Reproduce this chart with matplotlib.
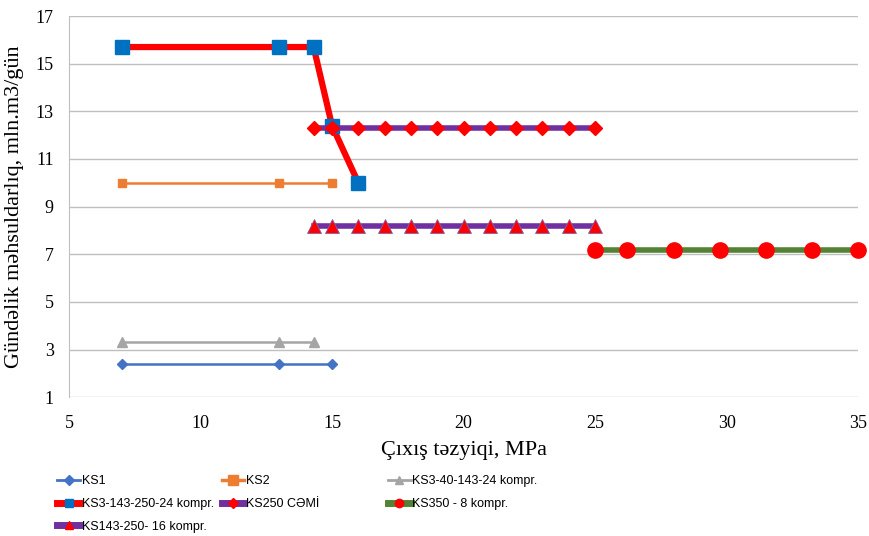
import matplotlib.pyplot as plt
from matplotlib.lines import Line2D

# data
ks1_x = [7, 13, 15]
ks1_y = [2.4, 2.4, 2.4]
ks2_x = [7, 13, 15]
ks2_y = [10, 10, 10]
ks3_40_x = [7, 13, 14.3]
ks3_40_y = [3.3, 3.3, 3.3]
ks3_143_x = [7, 13, 14.3, 15, 16]
ks3_143_y = [15.7, 15.7, 15.7, 12.4, 10]
ks250_x = [14.3, 15, 16, 17, 18, 19, 20, 21, 22, 23, 24, 25]
ks250_y = [12.3] * 12
ks143_x = [14.3, 15, 16, 17, 18, 19, 20, 21, 22, 23, 24, 25]
ks143_y = [8.2] * 12
ks350_x = [25, 26.2, 28, 29.75, 31.5, 33.25, 35]
ks350_y = [7.2] * 7

names = ["KS1", "KS2", "KS3-40-143-24 kompr.", "KS3-143-250-24 kompr.",
         "KS250 CƏMİ", "KS350 - 8 kompr.", "KS143-250- 16 kompr."]

serif = "Liberation Serif"

fig = plt.figure(figsize=(8.7, 5.36), dpi=100)
ax = fig.add_axes([0.0793, 0.259, 0.907, 0.711])

ax.plot(ks1_x, ks1_y, color="#4472C4", lw=1.8, marker="D", ms=5)
ax.plot(ks2_x, ks2_y, color="#ED7D31", lw=1.8, marker="s", ms=6)
ax.plot(ks3_40_x, ks3_40_y, color="#A5A5A5", lw=1.8, marker="^", ms=7)
ax.plot(ks3_143_x, ks3_143_y, color="#FF0000", lw=4.5, marker="s", ms=10,
        mfc="#0070C0", mec="#0070C0")
ax.plot(ks250_x, ks250_y, color="#7030A0", lw=4, marker="D", ms=7.5,
        mfc="#FF0000", mec="#FF0000")
ax.plot(ks143_x, ks143_y, color="#7030A0", lw=4, marker="^", ms=10,
        mfc="#FF0000", mec="#8064A2", mew=0.6)
ax.plot(ks350_x, ks350_y, color="#548235", lw=4, marker="o", ms=11,
        mfc="#FF0000", mec="#FF0000", clip_on=False)

ax.set_xlim(5, 35)
ax.set_ylim(1, 17)
ax.set_xticks(range(5, 36, 5))
ax.set_yticks(range(1, 18, 2))
ax.grid(axis="y", color="#BFBFBF", lw=1)
ax.set_axisbelow(True)
for s in ["top", "right", "bottom"]:
    ax.spines[s].set_visible(False)
ax.spines["left"].set_color("#BFBFBF")
ax.tick_params(axis="x", length=0, labelsize=13, pad=13)
ax.tick_params(axis="y", length=0, labelsize=13, pad=11)
for lab in ax.get_xticklabels() + ax.get_yticklabels():
    lab.set_fontfamily(serif)

ax.set_xlabel("Çıxış təzyiqi, MPa", fontsize=16, fontfamily=serif, labelpad=6)
ax.set_ylabel("Gündəlik məhsuldarlıq, mln.m3/gün", fontsize=16, fontfamily=serif, labelpad=8)

# small legend symbols, like the original
h1 = Line2D([], [], color="#4472C4", lw=2, marker="D", ms=5)
h2 = Line2D([], [], color="#ED7D31", lw=2.5, marker="s", ms=7)
h3 = Line2D([], [], color="#A5A5A5", lw=2, marker="^", ms=6)
h4 = Line2D([], [], color="#FF0000", lw=5, marker="s", ms=6, mfc="#0070C0", mec="#0070C0")
h5 = Line2D([], [], color="#7030A0", lw=5, marker="D", ms=5, mfc="#FF0000", mec="#FF0000")
h6 = Line2D([], [], color="#548235", lw=5, marker="o", ms=6, mfc="#FF0000", mec="#FF0000")
h7 = Line2D([], [], color="#7030A0", lw=5, marker="^", ms=6, mfc="#FF0000", mec="#FF0000")
handles = [h1, h2, h3, h4, h5, h6, h7]

# three legend columns placed like the original (filled row by row)
cols = [([0, 3, 6], 0.066), ([1, 4], 0.255), ([2, 5], 0.446)]
for idx, xpos in cols:
    fig.legend(handles=[handles[i] for i in idx], labels=[names[i] for i in idx],
               loc="upper left", bbox_to_anchor=(xpos, 0.113),
               frameon=False, handlelength=1.8, handletextpad=0.15, labelspacing=0.85,
               borderpad=0, borderaxespad=0,
               prop={"family": "Liberation Sans", "size": 9})

fig.savefig("out.png", dpi=100)
